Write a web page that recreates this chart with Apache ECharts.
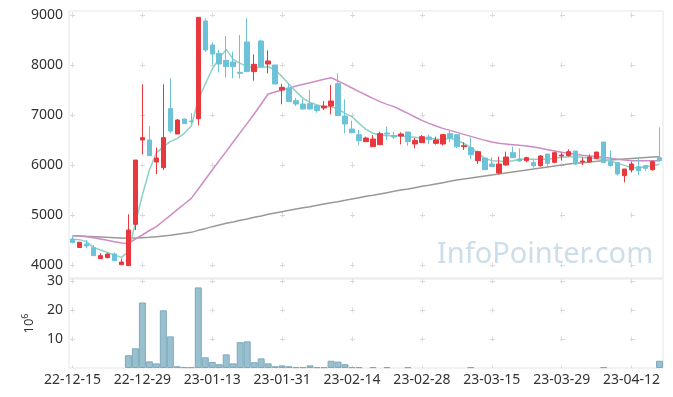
<!DOCTYPE html>
<html><head><meta charset="utf-8">
<script src="https://cdn.jsdelivr.net/npm/echarts@6/dist/echarts.min.js"></script>
<style>html,body{margin:0;padding:0;background:#fff}#c{width:673px;height:397px}</style>
</head><body><div id="c"></div>
<script>
const dates = ['22-12-15','22-12-16','22-12-19','22-12-20','22-12-21','22-12-22','22-12-23','22-12-26','22-12-27','22-12-28',
'22-12-29','23-01-02','23-01-03','23-01-04','23-01-05','23-01-06','23-01-09','23-01-10','23-01-11','23-01-12',
'23-01-13','23-01-16','23-01-17','23-01-18','23-01-19','23-01-20','23-01-25','23-01-26','23-01-27','23-01-30',
'23-01-31','23-02-01','23-02-02','23-02-03','23-02-06','23-02-07','23-02-08','23-02-09','23-02-10','23-02-13',
'23-02-14','23-02-15','23-02-16','23-02-17','23-02-20','23-02-21','23-02-22','23-02-23','23-02-24','23-02-27',
'23-02-28','23-03-02','23-03-03','23-03-06','23-03-07','23-03-08','23-03-09','23-03-10','23-03-13','23-03-14',
'23-03-15','23-03-16','23-03-17','23-03-20','23-03-21','23-03-22','23-03-23','23-03-24','23-03-27','23-03-28',
'23-03-29','23-03-30','23-03-31','23-04-03','23-04-04','23-04-05','23-04-06','23-04-07','23-04-10','23-04-11',
'23-04-12','23-04-13','23-04-14','23-04-17','23-04-18'];

const opens = [4520,4350,4420,4347,4127,4147,4220,4007,3987,4813,
6500,6500,6060,5947,7127,6620,6920,6880,6927,8880,
8400,8233,8093,8060,7853,8460,7867,8480,8020,8000,
7500,7540,7287,7220,7227,7187,7140,7180,7627,6980,
6720,6607,6467,6367,6407,6640,6587,6580,6660,6420,
6447,6560,6433,6420,6627,6607,6367,6347,6087,6140,
6020,5840,6000,6247,6120,6087,6047,5987,6220,6053,
6180,6187,6280,6060,6060,6133,6460,6067,6047,5787,
5900,5967,5987,5907,6147];
const closes = [4450,4455,4380,4187,4187,4220,4087,4060,4700,6100,
6547,6187,6140,6547,6680,6900,6827,6867,8953,8300,
8220,8020,7967,7967,7833,7867,8013,7967,8080,7620,
7553,7267,7220,7120,7120,7087,7180,7280,6987,6820,
6647,6487,6540,6520,6627,6620,6560,6620,6467,6493,
6567,6507,6500,6607,6540,6367,6387,6207,6267,5907,
5967,6020,6160,6147,6080,6147,5987,6180,6033,6247,
6200,6267,6020,6080,6160,6260,6047,5987,5820,5920,
6020,5887,5933,6067,6087];
const lows = [4433,4347,4333,4180,4120,4133,4080,4000,3980,4700,
6213,6180,5820,5900,6633,6620,6827,6820,6793,8260,
8013,7850,7753,7733,7733,7867,7687,7967,7833,7620,
7213,7267,7180,7113,7113,7047,7100,7013,6987,6633,
6633,6400,6467,6367,6400,6500,6520,6413,6387,6333,
6447,6420,6407,6393,6453,6333,6300,6113,6020,5907,
5967,5813,5987,6147,6067,6053,5947,5967,5933,6033,
6087,6167,6000,6000,6060,6133,6047,5967,5787,5653,
5853,5793,5887,5887,6067];
const highs = [4567,4460,4500,4400,4233,4233,4253,4127,5013,6100,
7613,6780,6353,7613,7733,6920,6920,7040,8953,8933,
8453,8300,8580,8267,8600,8933,8213,8510,8293,8000,
7620,7620,7340,7320,7500,7187,7280,7600,7833,7313,
6887,6700,6567,6600,6667,6767,6667,6653,6660,6540,
6600,6607,6567,6620,6700,6607,6453,6553,6287,6140,
6153,6167,6267,6367,6333,6167,6100,6200,6220,6267,
6247,6313,6280,6153,6213,6260,6460,6287,6047,5920,
6067,6133,6000,6087,6753];

const ma5 = [4513,4507,4467,4353,4300,4253,4200,4153,4267,4840,
5400,5900,6240,6367,6467,6533,6633,6780,7300,7620,
7920,8133,8313,8113,8033,7967,7947,7953,7967,7900,
7767,7613,7467,7333,7253,7200,7167,7167,7120,7033,
6967,6833,6713,6633,6600,6587,6587,6580,6567,6553,
6533,6533,6520,6513,6533,6500,6433,6353,6233,6133,
6087,6080,6067,6087,6113,6120,6113,6113,6113,6133,
6153,6167,6167,6153,6133,6127,6113,6080,6033,5993,
5947,5947,5967,5987,6013];
const ma20 = [4587,4580,4567,4547,4520,4493,4467,4440,4433,4520,
4600,4690,4767,4880,4993,5107,5220,5333,5520,5710,
5900,6087,6273,6460,6647,6833,7020,7220,7420,7460,
7500,7540,7580,7613,7647,7680,7713,7747,7680,7613,
7540,7467,7400,7333,7267,7213,7167,7100,7033,6960,
6893,6833,6780,6733,6693,6653,6613,6573,6533,6493,
6460,6433,6420,6407,6393,6380,6360,6333,6307,6280,
6253,6233,6213,6193,6180,6167,6153,6133,6113,6100,
6087,6087,6087,6087,6087];
const ma60 = [4587,4580,4573,4567,4560,4553,4547,4540,4533,4540,
4547,4553,4567,4580,4593,4613,4633,4653,4693,4727,
4767,4800,4833,4860,4893,4920,4953,4980,5013,5040,
5067,5093,5120,5147,5167,5193,5220,5247,5267,5293,
5320,5347,5373,5393,5420,5447,5473,5500,5520,5547,
5573,5593,5620,5647,5673,5700,5720,5740,5760,5780,
5800,5820,5840,5860,5880,5900,5920,5940,5960,5980,
6000,6020,6033,6047,6060,6073,6087,6100,6110,6120,
6130,6140,6150,6160,6167];

// volume in millions of shares (0 = too small to see)
const volume = [0,0,0,0,0,0,0,0,4.4,6.8,
22.6,2.3,1.6,19.9,10.9,0.6,0.3,0.3,27.8,3.7,
2.1,1.3,4.7,1.6,8.9,9.2,2.0,3.3,1.6,0.6,
0.9,0.6,0.3,0.3,0.9,0.3,0.3,2.5,2.2,1.3,
0.3,0.3,0,0.3,0,0.3,0,0,0.3,0,
0,0,0,0,0,0,0,0.3,0,0,
0,0,0,0,0,0,0,0,0,0,
0,0,0,0,0,0,0.3,0,0,0,
0,0,0,0,2.5];

const priceTicks = [4000,5000,6000,7000,8000,9000];
const volumeTicks = [10,20,30];

const FONT = 'Noto Sans';
const candleData = opens.map((o,i)=>[o, closes[i], lows[i], highs[i]]);

const chart = echarts.init(document.getElementById('c'), null, {renderer:'canvas'});
const markColor = '#dadada';
chart.setOption({
  animation:false,
  backgroundColor:'#fff',
  grid:[
    {left:69, right:10, top:11, height:267, show:true, borderColor:'#e6e6e6', borderWidth:1},
    {left:69, right:10, top:279, height:89, show:true, borderColor:'#e6e6e6', borderWidth:1}
  ],
  graphic:[{
    type:'text', left:437, top:240, z:0, silent:true,
    style:{text:'InfoPointer.com', fill:'rgba(170,200,218,0.6)', font:'29px "Noto Sans", sans-serif'}
  }],
  xAxis:[
    {type:'category', gridIndex:0, data:dates, boundaryGap:true,
     axisLine:{show:false}, axisTick:{show:false}, axisLabel:{show:false},
     splitLine:{show:true, interval:9, alignWithLabel:true, lineStyle:{color:markColor, width:1, type:[5,45], dashOffset:48.5}}},
    {type:'category', gridIndex:1, data:dates, boundaryGap:true,
     axisLine:{show:false}, axisTick:{show:false},
     axisLabel:{show:true, interval:9, margin:5, color:'#333', fontSize:14, fontFamily:FONT},
     splitLine:{show:true, interval:9, alignWithLabel:true, lineStyle:{color:markColor, width:1, type:[5,24.0], dashOffset:0.5}}}
  ],
  yAxis:[
    {type:'value', gridIndex:0, min:3740, max:9080, scale:true,
     axisLine:{show:false}, axisTick:{show:false, customValues:priceTicks},
     axisLabel:{customValues:priceTicks, formatter:v=>String(v), color:'#333', fontSize:14, fontFamily:FONT, margin:6},
     splitLine:{show:true, lineStyle:{color:markColor, width:1, type:[5,65], dashOffset:69}}},
    {type:'value', gridIndex:1, min:0, max:30.7,
     axisLine:{show:false}, axisTick:{show:false, customValues:volumeTicks},
     axisLabel:{customValues:volumeTicks, formatter:v=>String(v), color:'#333', fontSize:14, fontFamily:FONT, margin:6},
     name:'{a|10}{b|6}', nameLocation:'middle', nameGap:23, nameRotate:90,
     nameTextStyle:{rich:{a:{fontSize:13, fontFamily:FONT, color:'#333'}, b:{fontSize:9, fontFamily:FONT, color:'#333', verticalAlign:'top', padding:[0,0,8,0]}}},
     splitLine:{show:true, lineStyle:{color:markColor, width:1, type:[5,65], dashOffset:69}}}
  ],
  series:[
    {type:'line', name:'MA60', xAxisIndex:0, yAxisIndex:0, data:ma60, symbol:'none', z:2,
     lineStyle:{color:'#999999', width:1.5}},
    {type:'line', name:'MA20', xAxisIndex:0, yAxisIndex:0, data:ma20, symbol:'none', z:2,
     lineStyle:{color:'#cc8cc6', width:1.5}},
    {type:'line', name:'MA5', xAxisIndex:0, yAxisIndex:0, data:ma5, symbol:'none', z:2,
     lineStyle:{color:'#8dd0c4', width:1.5}},
    {type:'candlestick', xAxisIndex:0, yAxisIndex:0, data:candleData, barWidth:5, z:3,
     itemStyle:{color:'#e8383d', color0:'#6cc3d8', borderColor:'#e8383d', borderColor0:'#6cc3d8', borderWidth:1}},
    {type:'bar', xAxisIndex:1, yAxisIndex:1, data:volume.map(v => v > 0 ? v : '-'), barCategoryGap:'0%', z:2,
     itemStyle:{color:'#98c0cf', borderColor:'#7fa9bb', borderWidth:1}}
  ]
});
</script></body></html>
